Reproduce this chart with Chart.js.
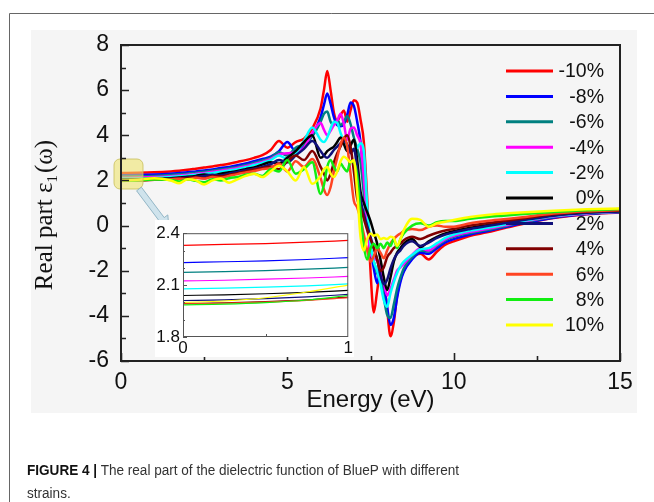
<!DOCTYPE html>
<html><head><meta charset="utf-8">
<script src="https://cdn.jsdelivr.net/npm/chart.js@4.4.1/dist/chart.umd.min.js"></script>
<style>
html,body{margin:0;padding:0;background:#fff;}
#wrap{position:relative;width:654px;height:502px;overflow:hidden;}
#main{position:absolute;left:0;top:0;}
#inset{position:absolute;left:150px;top:220px;}
#cap{position:absolute;left:27px;top:458px;font-family:"Liberation Sans",Arial,sans-serif;font-size:15.5px;line-height:23px;color:#333;white-space:nowrap;transform:scaleX(0.875);transform-origin:0 0;}
#cap b{color:#111;}
</style></head><body>
<div id="wrap">
<canvas id="main" width="654" height="502"></canvas>
<canvas id="inset" width="204" height="139"></canvas>
<div id="cap"><b>FIGURE 4 |</b> The real part of the dielectric function of BlueP with different<br>strains.</div>
</div>
<script>
// ---------- data ----------
const energy = [0,0.5,1,1.5,1.75,2,2.25,2.5,2.75,3,3.25,3.5,3.75,4,4.25,4.5,4.75,5,5.25,5.5,5.75,6,6.1,6.2,6.3,6.4,6.5,6.6,6.7,6.8,6.9,7,7.1,7.2,7.3,7.4,7.5,7.6,7.7,7.8,7.9,8,8.1,8.2,8.3,8.4,8.5,8.75,9,9.25,9.5,9.75,10,10.5,11,11.5,12,13,14,15];
const strainLabels = ['-10%','-8%','-6%','-4%','-2%','0%','2%','4%','6%','8%','10%'];
const strainColors = ['#ff0000','#0000ff','#008080','#ff00ff','#00ffff','#000000','#10107a','#800000','#ff4422','#11ee11','#ffff00'];

const eps_m10 = [2.33,2.34,2.36,2.4,2.43,2.47,2.52,2.57,2.62,2.68,2.74,2.82,2.9,3.0,3.12,3.35,3.75,3.45,3.7,3.85,4.3,5.2,6.0,6.85,6.0,5.0,4.65,4.9,5.1,4.6,5.1,5.55,5.45,4.7,3.7,1.2,-2.0,-3.85,-2.9,-2.0,-2.4,-3.7,-4.9,-4.3,-3.1,-2.4,-2.0,-1.45,-1.25,-1.5,-1.15,-0.85,-0.7,-0.45,-0.3,-0.12,0.05,0.33,0.5,0.58];
const eps_m8 = [2.23,2.24,2.26,2.3,2.33,2.36,2.4,2.44,2.49,2.55,2.6,2.67,2.75,2.85,2.95,3.05,3.3,3.7,3.3,3.5,4.0,4.8,5.35,5.85,5.4,4.8,4.45,4.4,4.5,4.9,5.45,5.3,4.6,3.7,2.0,0.2,-1.0,-1.9,-2.55,-2.0,-2.6,-3.6,-4.4,-4.1,-3.2,-2.5,-2.05,-1.5,-1.2,-1.25,-1.0,-0.75,-0.6,-0.4,-0.25,-0.08,0.08,0.35,0.51,0.59];
const eps_m6 = [2.17,2.18,2.2,2.24,2.27,2.3,2.34,2.38,2.43,2.48,2.54,2.6,2.68,2.78,2.88,3.0,3.25,3.1,3.45,3.6,3.95,4.6,4.95,5.05,4.6,4.45,4.7,4.45,4.6,4.85,4.5,3.9,3.4,2.8,1.4,0.0,-1.0,-1.6,-2.1,-2.4,-3.2,-3.95,-4.1,-3.5,-2.8,-2.3,-1.9,-1.4,-1.1,-1.15,-0.9,-0.65,-0.5,-0.33,-0.2,-0.04,0.12,0.38,0.53,0.6];
const eps_m4 = [2.12,2.13,2.15,2.19,2.22,2.25,2.29,2.33,2.38,2.43,2.49,2.55,2.63,2.72,2.82,2.95,3.15,3.2,3.25,3.45,4.1,4.55,4.25,4.0,4.2,4.45,4.65,4.95,4.5,3.8,4.3,4.35,4.0,3.6,2.1,0.1,-1.2,-1.45,-1.55,-1.7,-2.5,-3.1,-2.8,-2.4,-2.0,-1.85,-1.7,-1.3,-1.0,-1.1,-0.85,-0.6,-0.45,-0.28,-0.15,0.0,0.15,0.4,0.54,0.61];
const eps_m2 = [2.08,2.09,2.11,2.15,2.18,2.21,2.25,2.29,2.33,2.38,2.44,2.5,2.58,2.68,2.78,2.9,3.1,2.95,3.2,3.75,4.35,3.8,3.7,3.9,4.3,4.6,4.55,4.1,3.75,3.5,3.4,3.35,3.45,3.65,3.3,0.9,-0.8,-1.6,-2.0,-2.6,-3.3,-3.6,-3.0,-2.5,-2.1,-1.8,-1.6,-1.3,-1.05,-1.0,-0.78,-0.55,-0.4,-0.22,-0.1,0.04,0.18,0.42,0.56,0.62];
const eps_0 = [2.04,2.05,2.07,2.1,2.13,2.16,2.2,2.26,2.22,2.3,2.36,2.42,2.5,2.58,2.7,2.8,2.75,3.0,3.3,3.7,4.0,3.0,3.1,3.3,3.4,3.5,3.7,3.9,3.6,3.3,3.55,3.8,2.9,1.5,1.0,0.6,0.2,-0.3,-0.8,-1.5,-2.3,-2.85,-2.3,-1.6,-1.2,-1.0,-0.8,-0.6,-0.95,-0.7,-0.5,-0.35,-0.25,-0.1,0.02,0.14,0.25,0.46,0.58,0.64];
const eps_p2 = [2.01,2.02,2.05,2.08,2.1,2.13,2.16,2.2,2.25,2.22,2.3,2.38,2.45,2.52,2.6,2.72,2.9,2.8,3.1,3.4,3.75,3.3,3.1,3.0,3.15,3.35,3.5,3.65,3.75,3.6,3.2,3.4,2.5,1.2,0.5,0.0,-0.5,-1.0,-1.5,-2.2,-2.6,-2.4,-1.9,-1.5,-1.25,-1.1,-0.9,-0.7,-0.9,-0.75,-0.55,-0.4,-0.3,-0.15,-0.02,0.1,0.22,0.44,0.57,0.63];
const eps_p4 = [1.99,2.0,2.03,2.06,2.08,2.1,2.14,2.1,2.2,2.18,2.25,2.32,2.4,2.48,2.55,2.62,2.5,2.85,3.1,2.9,3.3,2.6,2.3,2.0,2.3,2.8,3.2,3.5,3.85,4.0,3.5,2.4,1.2,0.8,0.3,-0.2,-0.6,-1.0,-1.5,-2.0,-1.85,-1.4,-1.2,-1.0,-0.9,-0.8,-0.65,-0.5,-0.6,-0.45,-0.32,-0.22,-0.15,0.0,0.1,0.2,0.3,0.5,0.61,0.67];
const eps_p6 = [1.99,2.0,2.03,2.05,2.07,2.05,2.12,2.08,2.15,2.12,2.2,2.28,2.35,2.42,2.5,2.55,2.75,2.4,2.85,2.6,2.95,2.1,1.6,1.35,1.7,2.4,3.0,3.6,3.9,3.5,2.3,1.1,0.8,0.3,-0.4,-1.1,-1.6,-1.35,-1.0,-1.2,-1.45,-1.1,-0.8,-0.6,-0.45,-0.35,-0.25,-0.15,-0.2,-0.05,0.0,-0.05,-0.05,0.1,0.2,0.28,0.36,0.53,0.63,0.69];
const eps_p8 = [1.98,2.0,2.04,2.02,1.95,2.05,1.98,1.92,2.05,2.0,2.1,2.15,2.25,2.3,2.2,2.5,2.4,2.9,2.3,2.5,2.8,1.4,1.8,2.6,2.9,2.6,2.4,2.75,2.55,2.4,2.85,2.8,2.2,0.6,-0.9,-1.5,-1.0,-0.8,-1.0,-0.8,-1.0,-0.75,-0.9,-0.6,-1.0,-0.6,-0.35,0.0,0.1,0.0,0.15,0.2,0.2,0.3,0.38,0.44,0.5,0.6,0.68,0.73];
const eps_p10 = [2.0,2.03,2.1,2.0,1.87,2.05,2.0,1.82,2.0,2.08,1.9,2.05,2.2,2.3,2.15,2.4,2.65,2.4,2.0,2.6,1.85,2.2,2.5,2.6,2.3,2.15,2.4,2.85,3.05,2.95,2.8,2.9,1.5,-0.5,-1.1,-0.6,-0.35,-0.45,-0.4,-0.6,-0.55,-0.6,-0.5,-0.55,-0.9,-0.6,-0.2,0.3,0.25,-0.05,0.1,0.17,0.25,0.38,0.47,0.53,0.58,0.66,0.72,0.76];

// inset (0–1 eV zoom)
const insetEnergy = [0,0.25,0.5,0.75,1];
const inset_m10 = [2.33,2.335,2.34,2.348,2.358];
const inset_m8 = [2.23,2.235,2.24,2.248,2.259];
const inset_m6 = [2.173,2.178,2.184,2.192,2.202];
const inset_m4 = [2.124,2.128,2.134,2.141,2.15];
const inset_m2 = [2.078,2.082,2.088,2.096,2.107];
const inset_0 = [2.04,2.044,2.05,2.058,2.069];
const inset_p2 = [2.011,2.015,2.022,2.032,2.046];
const inset_p4 = [1.994,1.998,2.005,2.015,2.03];
const inset_p6 = [1.991,1.995,2.002,2.012,2.027];
const inset_p8 = [1.986,1.99,1.999,2.014,2.04];
const inset_p10 = [2.0,2.008,2.027,2.06,2.1];

const yTickLabels = [-6,-4,-2,0,2,4,6,8];
const xTickLabels = [0,5,10,15];

const mainSeries = [eps_m10,eps_m8,eps_m6,eps_m4,eps_m2,eps_0,eps_p2,eps_p4,eps_p6,eps_p8,eps_p10];
const insetSeries = [inset_m10,inset_m8,inset_m6,inset_m4,inset_m2,inset_0,inset_p2,inset_p4,inset_p6,inset_p8,inset_p10];

const SANS = '"Liberation Sans", Arial, sans-serif';
const SERIF = '"Liberation Serif", "Times New Roman", serif';

const mainDecor = {
  id: 'mainDecor',
  beforeDraw(chart) {
    const c = chart.ctx;
    c.save();
    c.fillStyle = '#ffffff'; c.fillRect(0, 0, 654, 502);
    c.fillStyle = '#f5f5f5'; c.fillRect(31, 30, 606, 383);
    c.strokeStyle = '#666'; c.lineWidth = 1;
    c.beginPath(); c.moveTo(9.5, 502); c.lineTo(9.5, 13.5); c.lineTo(654, 13.5); c.stroke();
    c.restore();
  },
  afterDatasetsDraw(chart) {
    const c = chart.ctx, a = chart.chartArea;
    const xs = chart.scales.x, ys = chart.scales.y;
    c.save();
    // highlight box
    const hx = 114, hy = 159, hw = 29, hh = 30, r = 6;
    c.beginPath();
    c.moveTo(hx + r, hy); c.arcTo(hx + hw, hy, hx + hw, hy + hh, r); c.arcTo(hx + hw, hy + hh, hx, hy + hh, r);
    c.arcTo(hx, hy + hh, hx, hy, r); c.arcTo(hx, hy, hx + hw, hy, r); c.closePath();
    c.fillStyle = 'rgba(238,228,110,0.6)'; c.fill();
    c.strokeStyle = 'rgba(200,190,90,0.8)'; c.lineWidth = 1; c.stroke();
    // arrow
    const sx = 139, sy = 189, tx = 169, ty = 229;
    const dx = tx - sx, dy = ty - sy, L = Math.hypot(dx, dy);
    const ux = dx / L, uy = dy / L, nx = -uy, ny = ux;
    const hl = 12, sw = 3, hw2 = 7.5;
    const bx = tx - ux * hl, by = ty - uy * hl;
    c.beginPath();
    c.moveTo(sx + nx * sw, sy + ny * sw);
    c.lineTo(bx + nx * sw, by + ny * sw);
    c.lineTo(bx + nx * hw2, by + ny * hw2);
    c.lineTo(tx, ty);
    c.lineTo(bx - nx * hw2, by - ny * hw2);
    c.lineTo(bx - nx * sw, by - ny * sw);
    c.lineTo(sx - nx * sw, sy - ny * sw);
    c.closePath();
    c.fillStyle = '#cfe3ec'; c.fill();
    c.strokeStyle = '#93b6c6'; c.lineWidth = 1; c.stroke();
    // frame
    c.strokeStyle = '#222'; c.lineWidth = 2;
    c.strokeRect(a.left, a.top, a.right - a.left, a.bottom - a.top);
    // inward ticks
    c.lineWidth = 1.6;
    c.beginPath();
    for (let v = -6; v <= 8; v++) {
      const y = Math.round(ys.getPixelForValue(v)) + 0.5;
      const len = (v % 2 === 0) ? 8 : 5;
      c.moveTo(a.left, y); c.lineTo(a.left + len, y);
    }
    for (let v = 0; v <= 15; v += 2.5) {
      const x = Math.round(xs.getPixelForValue(v)) + 0.5;
      const len = (v % 5 === 0) ? 8 : 5;
      c.moveTo(x, a.bottom); c.lineTo(x, a.bottom - len);
    }
    c.stroke();
    // legend
    c.font = '19.5px ' + SANS; c.textAlign = 'right'; c.textBaseline = 'middle'; c.fillStyle = '#111';
    chart.data.datasets.forEach((ds, i) => {
      const y = 71 + 25.4 * i;
      c.strokeStyle = ds.borderColor; c.lineWidth = 3;
      c.beginPath(); c.moveTo(506, y); c.lineTo(553, y); c.stroke();
      c.fillText(ds.label, 604, y + 1);
    });
    // y-axis title with subscript
    c.translate(44, 215); c.rotate(-Math.PI / 2);
    const big = '25px ' + SERIF, small = '15px ' + SERIF;
    const p1 = 'Real part \u03b5', p2 = '1', p3 = '(\u03c9)';
    c.font = big; const w1 = c.measureText(p1).width, w3 = c.measureText(p3).width;
    c.font = small; const w2 = c.measureText(p2).width;
    let x0 = -(w1 + w2 + w3 + 2) / 2;
    c.textAlign = 'left'; c.textBaseline = 'alphabetic'; c.fillStyle = '#111';
    c.font = big; c.fillText(p1, x0, 8); x0 += w1;
    c.font = small; c.fillText(p2, x0, 13); x0 += w2 + 2;
    c.font = big; c.fillText(p3, x0, 8);
    c.restore();
  }
};

new Chart(document.getElementById('main'), {
  type: 'line',
  data: {
    datasets: mainSeries.map((s, i) => ({
      label: strainLabels[i],
      data: energy.map((e, j) => ({ x: e, y: s[j] })),
      borderColor: strainColors[i],
      borderWidth: 2.5,
      pointRadius: 0,
      fill: false,
      cubicInterpolationMode: 'monotone',
      order: mainSeries.length - i
    }))
  },
  options: {
    responsive: false,
    animation: false,
    devicePixelRatio: 1,
    layout: { padding: { left: 0, top: 45, right: 34, bottom: 87 } },
    plugins: { legend: { display: false }, tooltip: { enabled: false } },
    scales: {
      x: {
        type: 'linear', min: 0, max: 15,
        afterBuildTicks: s => { s.ticks = xTickLabels.map(v => ({ value: v })); },
        ticks: { font: { family: SANS, size: 23 }, color: '#111', padding: 8, maxRotation: 0 },
        grid: { display: false, drawTicks: false },
        border: { display: false },
        title: { display: true, text: 'Energy (eV)', font: { family: SANS, size: 24 }, color: '#111', padding: 0 },
        afterFit: s => { s.height = 54; }
      },
      y: {
        type: 'linear', min: -6, max: 8,
        afterBuildTicks: s => { s.ticks = yTickLabels.map(v => ({ value: v })); },
        ticks: { font: { family: SANS, size: 23 }, color: '#111', padding: 12 },
        grid: { display: false, drawTicks: false },
        border: { display: false },
        afterFit: s => { s.width = 121; }
      }
    }
  },
  plugins: [mainDecor]
});

const insetDecor = {
  id: 'insetDecor',
  beforeDraw(chart) {
    const c = chart.ctx;
    c.save(); c.fillStyle = '#ffffff'; c.fillRect(5, 0, chart.width - 5, chart.height - 2); c.restore();
  },
  afterDatasetsDraw(chart) {
    const c = chart.ctx, a = chart.chartArea, ys = chart.scales.y, xs = chart.scales.x;
    c.save();
    c.strokeStyle = '#555'; c.lineWidth = 1;
    c.strokeRect(a.left + 0.5, a.top + 0.5, a.right - a.left - 1, a.bottom - a.top - 1);
    c.beginPath();
    for (let k = 0; k <= 6; k++) {
      const y = Math.round(ys.getPixelForValue(1.8 + k * 0.1)) + 0.5;
      c.moveTo(a.left, y); c.lineTo(a.left + (k % 3 === 0 ? 4 : 2), y);
    }
    const xm = Math.round(xs.getPixelForValue(0.5)) + 0.5;
    c.moveTo(xm, a.bottom); c.lineTo(xm, a.bottom - 3);
    c.stroke();
    c.restore();
  }
};

new Chart(document.getElementById('inset'), {
  type: 'line',
  data: {
    datasets: insetSeries.map((s, i) => ({
      label: strainLabels[i],
      data: insetEnergy.map((e, j) => ({ x: e, y: s[j] })),
      borderColor: strainColors[i],
      borderWidth: 1.2,
      pointRadius: 0,
      fill: false,
      cubicInterpolationMode: 'monotone',
      order: insetSeries.length - i
    }))
  },
  options: {
    responsive: false,
    animation: false,
    devicePixelRatio: 1,
    layout: { padding: { left: 0, top: 12, right: 5, bottom: 0 } },
    plugins: { legend: { display: false }, tooltip: { enabled: false } },
    scales: {
      x: {
        type: 'linear', min: 0, max: 1,
        afterBuildTicks: s => { s.ticks = [{ value: 0 }, { value: 1 }]; },
        ticks: { font: { family: SANS, size: 17 }, color: '#111', padding: 1, maxRotation: 0 },
        grid: { display: false, drawTicks: false },
        border: { display: false },
        afterFit: s => { s.height = 22; }
      },
      y: {
        type: 'linear', min: 1.8, max: 2.4,
        afterBuildTicks: s => { s.ticks = [{ value: 1.8 }, { value: 2.1 }, { value: 2.4 }]; },
        ticks: { font: { family: SANS, size: 17 }, color: '#111', padding: 3, callback: v => Number(v).toFixed(1) },
        grid: { display: false, drawTicks: false },
        border: { display: false },
        afterFit: s => { s.width = 33; }
      }
    }
  },
  plugins: [insetDecor]
});
</script>
</body></html>
